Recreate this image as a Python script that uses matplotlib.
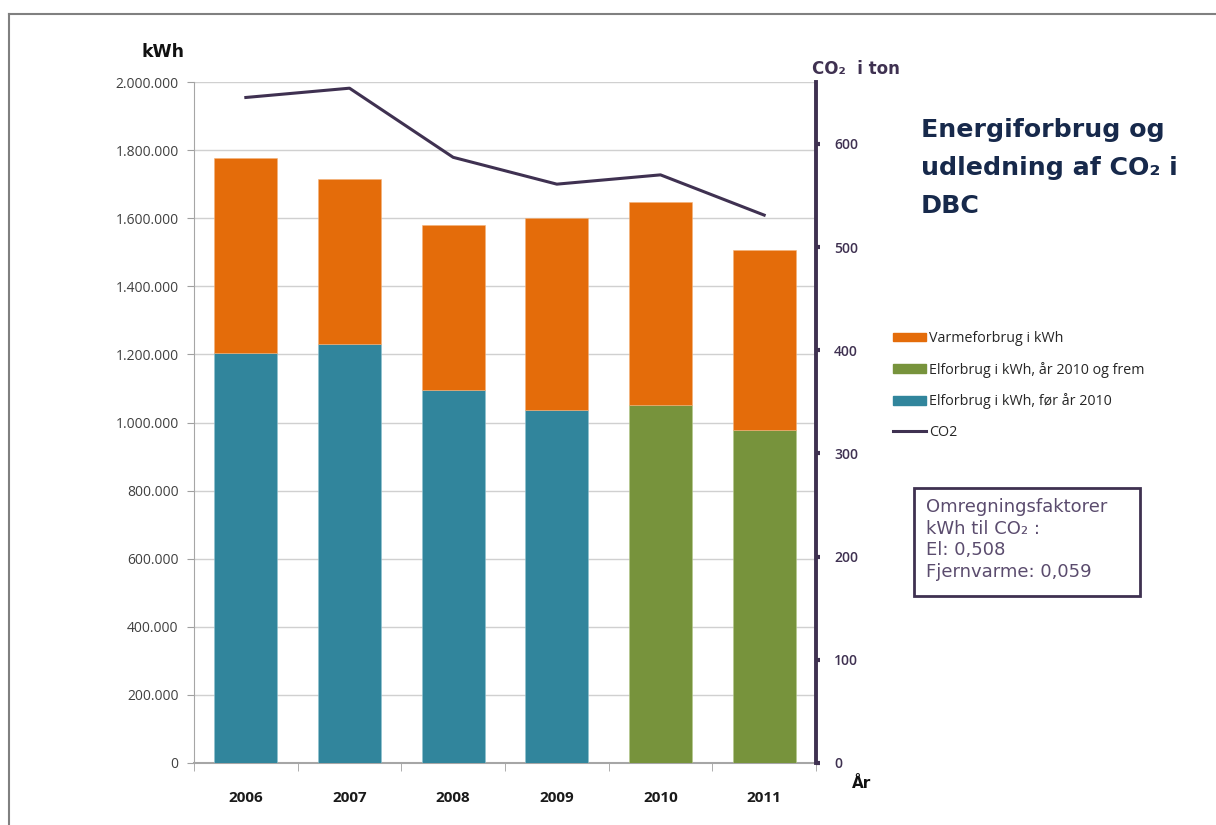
import matplotlib
matplotlib.use("Agg")
import matplotlib.pyplot as plt
from matplotlib.patches import Rectangle, Patch
from matplotlib.lines import Line2D
import numpy as np

years = ["2006", "2007", "2008", "2009", "2010", "2011"]
el_before_2010 = [1204000, 1231000, 1095000, 1037000, 0, 0]
el_from_2010 = [0, 0, 0, 0, 1051000, 978000]
heat = [573000, 485000, 486000, 564000, 597000, 529000]
co2 = [645, 654, 587, 561, 570, 531]
left_ticks = [0, 200000, 400000, 600000, 800000, 1000000, 1200000, 1400000, 1600000, 1800000, 2000000]
right_ticks = [0, 100, 200, 300, 400, 500, 600]

C_HEAT = "#E46C0A"
C_GREEN = "#77933C"
C_TEAL = "#31859C"
C_LINE = "#3F3151"
C_TITLE = "#17294B"

fig = plt.figure(figsize=(12.16, 8.25), dpi=100)
ax = fig.add_axes([194/1216, 1-763/825, (816-194)/1216, (763-82)/825])

x = np.arange(len(years))
el = np.array(el_before_2010) + np.array(el_from_2010)
w = 0.61
ax.bar(x, el_before_2010, w, color=C_TEAL, zorder=3, edgecolor="#8fc3d0", linewidth=0.4)
ax.bar(x, el_from_2010, w, color=C_GREEN, zorder=3, edgecolor="#b4c98a", linewidth=0.4)
ax.bar(x, heat, w, bottom=el, color=C_HEAT, zorder=3, edgecolor="#f3b27a", linewidth=0.4)

ax.set_xlim(-0.5, len(years) - 0.5)
ax.set_ylim(0, 2000000)
ax.set_yticks(left_ticks)
ax.set_yticklabels([f"{v:,}".replace(",", ".") for v in left_ticks],
                   fontsize=10, color="#404040", family="Open Sans")
ax.grid(axis="y", color="#d0d0d0", linewidth=1, zorder=0)
ax.tick_params(axis="y", length=5, color="#a0a0a0", pad=6)

ax.set_xticks(x)
ax.set_xticklabels(years, fontsize=11, fontweight="bold", family="Open Sans", color="#1a1a1a")
ax.set_xticks(np.arange(-0.5, len(years)), minor=True)
ax.tick_params(axis="x", which="major", length=0, pad=20)
ax.tick_params(axis="x", which="minor", length=6, color="#a0a0a0", direction="out")

for s in ["top", "right"]:
    ax.spines[s].set_visible(False)
ax.spines["left"].set_color("#a6a6a6")
ax.spines["bottom"].set_color("#a6a6a6")
ax.spines["bottom"].set_linewidth(1.5)

ax2 = ax.twinx()
ax2.plot(x, co2, color=C_LINE, linewidth=2.2, zorder=5)
ax2.set_ylim(0, 660)
ax2.set_yticks(right_ticks)
ax2.set_yticklabels([str(v) for v in right_ticks], fontsize=10, fontweight="semibold",
                    color=C_LINE, family="Open Sans")
ax2.tick_params(axis="y", length=3, width=3, color=C_LINE, pad=10)
for s in ["top", "left", "bottom"]:
    ax2.spines[s].set_visible(False)
ax2.spines["right"].set_color(C_LINE)
ax2.spines["right"].set_linewidth(2.8)

# axis titles
fig.text(163/1216, 1-52/825, "kWh", fontsize=12.5, fontweight="bold", family="DejaVu Sans",
         ha="center", va="center", color="#111111")
fig.text(812/1216, 1-69/825, "CO₂  i ton", fontsize=12, fontweight="bold", family="DejaVu Sans",
         ha="left", va="center", color=C_LINE)
fig.text(862/1216, 1-783/825, "År", fontsize=11, fontweight="bold", family="DejaVu Sans",
         ha="center", va="center", color="#111111")

# title
title_lines = ["Energiforbrug og", "udledning af CO₂ i", "DBC"]
for i, t in enumerate(title_lines):
    fig.text(921/1216, 1-(130 + i*38)/825, t, fontsize=18.2, fontweight="bold",
             family="DejaVu Sans", color=C_TITLE, ha="left", va="center")

# legend
handles = [Patch(color=C_HEAT), Patch(color=C_GREEN), Patch(color=C_TEAL),
           Line2D([0], [0], color=C_LINE, linewidth=2.2)]
labels = ["Varmeforbrug i kWh", "Elforbrug i kWh, år 2010 og frem",
          "Elforbrug i kWh, før år 2010", "CO2"]
leg = fig.legend(handles, labels, loc="upper left", bbox_to_anchor=(880/1216, 1-318/825),
                 frameon=False, handlelength=2.3, handleheight=0.55,
                 handletextpad=0.25, labelspacing=1.1, prop={"family": "Open Sans", "size": 10.3})
for t in leg.get_texts():
    t.set_color("#262626")

# conversion box
fig.add_artist(Rectangle((914/1216, 1-596/825), (1140-914)/1216, (596-488)/825,
                         transform=fig.transFigure, fill=False, edgecolor=C_LINE, linewidth=2))
box_lines = ["Omregningsfaktorer", "kWh til CO₂ :", "El: 0,508", "Fjernvarme: 0,059"]
for i, t in enumerate(box_lines):
    fig.text(926/1216, 1-(507 + i*21.7)/825, t, fontsize=13, family="DejaVu Sans",
             color="#5B4C6E", ha="left", va="center")

# outer frame
fig.add_artist(Line2D([9/1216, 1], [1-14/825, 1-14/825], transform=fig.transFigure,
                      color="#808080", linewidth=1.5))
fig.add_artist(Line2D([9/1216, 9/1216], [0, 1-14/825], transform=fig.transFigure,
                      color="#808080", linewidth=1.5))

fig.savefig("out.png", dpi=100)
